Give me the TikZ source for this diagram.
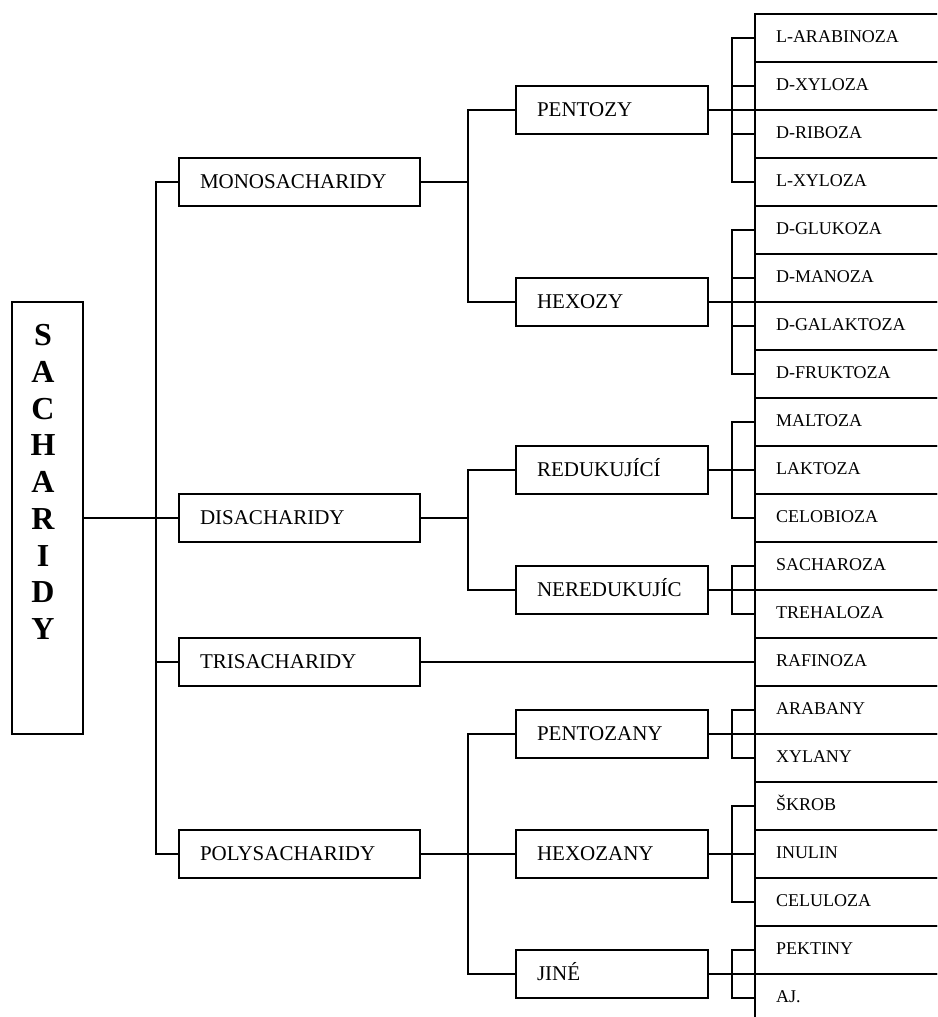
\documentclass[tikz,border=0pt]{standalone}
\usepackage{fontspec}
\setmainfont{Liberation Serif}
\usetikzlibrary{calc}
\newcommand{\bracket}[3]{\draw (#1.west) -- ++(-#3,0) |- (#2.west)}
\newcommand{\stub}[2]{\draw (#1.west) -- ++(-#2,0)}

\begin{document}
\begin{tikzpicture}[x=1pt, y=-1pt, line width=1.8pt,
        lvlone/.style={draw, line width=2pt, outer sep=0pt, minimum height=48pt, inner xsep=21pt, text width=199pt, align=left, text height=13.9pt, text depth=0pt, font=\fontsize{21}{25}\selectfont},
        lvltwo/.style={lvlone, text width=150pt},
        cell/.style={draw, line width=2.3pt, outer sep=0pt, anchor=north west, minimum height=48pt, inner xsep=21pt, text width=200pt, align=left, text height=11.9pt, text depth=3pt, font=\fontsize{18}{22}\selectfont}]
                \clip (0,0) rectangle (937,1017);

                \node[draw, line width=2pt, outer sep=0pt, minimum width=71pt, minimum height=432pt] (s) at (47.5,518) {};
                \node[inner sep=0pt, align=center, font=\fontsize{32}{36.75}\selectfont\bfseries] (st) at (43,482) {S\\A\\C\\H\\A\\R\\I\\D\\Y};

                \node[lvlone] (mono) at (299.5,182) {MONOSACHARIDY};
                \node[lvlone] (dis) at (299.5,518) {DISACHARIDY};
                \node[lvlone] (tri) at (299.5,662) {TRISACHARIDY};
                \node[lvlone] (poly) at (299.5,854) {POLYSACHARIDY};

                \node[lvltwo] (pent) at (612,110) {PENTOZY};
                \node[lvltwo] (hex) at (612,302) {HEXOZY};
                \node[lvltwo] (red) at (612,470) {REDUKUJÍCÍ};
                \node[lvltwo] (nered) at (612,590) {NEREDUKUJÍC};
                \node[lvltwo] (pentz) at (612,734) {PENTOZANY};
                \node[lvltwo] (hexz) at (612,854) {HEXOZANY};
                \node[lvltwo] (jine) at (612,974) {JINÉ};

                \node[cell] (la) at (755,14) {L-ARABINOZA};
                \node[cell] (dx) at (755,62) {D-XYLOZA};
                \node[cell] (dr) at (755,110) {D-RIBOZA};
                \node[cell] (lx) at (755,158) {L-XYLOZA};
                \node[cell] (dg) at (755,206) {D-GLUKOZA};
                \node[cell] (dm) at (755,254) {D-MANOZA};
                \node[cell] (dga) at (755,302) {D-GALAKTOZA};
                \node[cell] (df) at (755,350) {D-FRUKTOZA};
                \node[cell] (ma) at (755,398) {MALTOZA};
                \node[cell] (lk) at (755,446) {LAKTOZA};
                \node[cell] (cb) at (755,494) {CELOBIOZA};
                \node[cell] (sa) at (755,542) {SACHAROZA};
                \node[cell] (tr) at (755,590) {TREHALOZA};
                \node[cell] (ra) at (755,638) {RAFINOZA};
                \node[cell] (ar) at (755,686) {ARABANY};
                \node[cell] (xy) at (755,734) {XYLANY};
                \node[cell] (sk) at (755,782) {ŠKROB};
                \node[cell] (inu) at (755,830) {INULIN};
                \node[cell] (ce) at (755,878) {CELULOZA};
                \node[cell] (pe) at (755,926) {PEKTINY};
                \node[cell] (aj) at (755,974) {AJ.};

                % root to first level
                \draw (s.east) -- (dis.west);
                \bracket{mono}{poly}{23};
                \stub{tri}{23};

                % first level to second level
                \draw (mono.east) -- ++(48,0);
                \bracket{pent}{hex}{48};
                \draw (dis.east) -- ++(48,0);
                \bracket{red}{nered}{48};
                \draw (tri.east) -- (ra.west);
                \draw (poly.east) -- (hexz.west);
                \bracket{pentz}{jine}{48};

                % second level to the list
                \draw (pent.east) -- (pent.east -| la.west);
                \bracket{la}{lx}{23};
                \stub{dx}{23};
                \stub{dr}{23};

                \draw (hex.east) -- (hex.east -| dg.west);
                \bracket{dg}{df}{23};
                \stub{dm}{23};
                \stub{dga}{23};

                \draw (red.east) -- (lk.west);
                \bracket{ma}{cb}{23};

                \draw (nered.east) -- (nered.east -| sa.west);
                \bracket{sa}{tr}{23};

                \draw (pentz.east) -- (pentz.east -| ar.west);
                \bracket{ar}{xy}{23};

                \draw (hexz.east) -- (inu.west);
                \bracket{sk}{ce}{23};

                \draw (jine.east) -- (jine.east -| pe.west);
                \bracket{pe}{aj}{23};
            \end{tikzpicture}
\end{document}
